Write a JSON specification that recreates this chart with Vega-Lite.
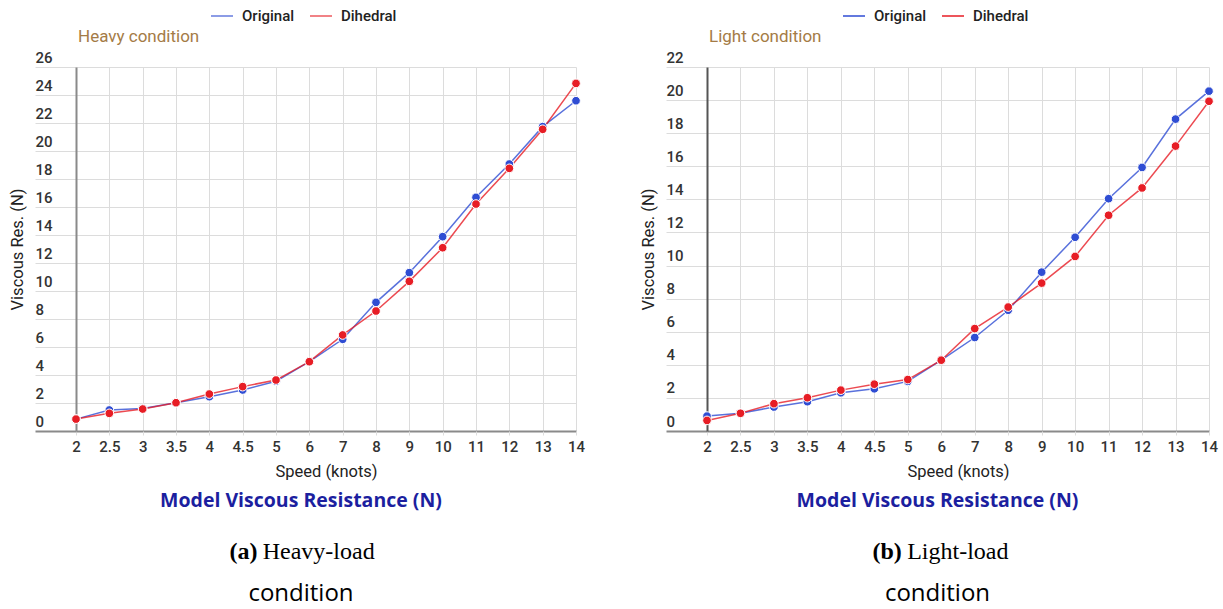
{
  "$schema": "https://vega.github.io/schema/vega-lite/v6.json",
  "background": "white",
  "padding": {"left": 9, "top": 4, "right": 0, "bottom": 0},
  "spacing": 47,
  "resolve": {"scale": {"color": "independent"}, "legend": {"color": "independent"}},
  "datasets": {
    "heavy": [
      {"speed": 2, "series": "Original", "value": 0.85},
      {"speed": 2.5, "series": "Original", "value": 1.5},
      {"speed": 3, "series": "Original", "value": 1.6},
      {"speed": 3.5, "series": "Original", "value": 2.02},
      {"speed": 4, "series": "Original", "value": 2.45},
      {"speed": 4.5, "series": "Original", "value": 2.93},
      {"speed": 5, "series": "Original", "value": 3.55},
      {"speed": 6, "series": "Original", "value": 4.95},
      {"speed": 7, "series": "Original", "value": 6.55},
      {"speed": 8, "series": "Original", "value": 9.19},
      {"speed": 9, "series": "Original", "value": 11.31},
      {"speed": 10, "series": "Original", "value": 13.88},
      {"speed": 11, "series": "Original", "value": 16.69},
      {"speed": 12, "series": "Original", "value": 19.07},
      {"speed": 13, "series": "Original", "value": 21.74},
      {"speed": 14, "series": "Original", "value": 23.59},
      {"speed": 2, "series": "Dihedral", "value": 0.85},
      {"speed": 2.5, "series": "Dihedral", "value": 1.26},
      {"speed": 3, "series": "Dihedral", "value": 1.57},
      {"speed": 3.5, "series": "Dihedral", "value": 2.02},
      {"speed": 4, "series": "Dihedral", "value": 2.64},
      {"speed": 4.5, "series": "Dihedral", "value": 3.17},
      {"speed": 5, "series": "Dihedral", "value": 3.64},
      {"speed": 6, "series": "Dihedral", "value": 4.95},
      {"speed": 7, "series": "Dihedral", "value": 6.86},
      {"speed": 8, "series": "Dihedral", "value": 8.57},
      {"speed": 9, "series": "Dihedral", "value": 10.69},
      {"speed": 10, "series": "Dihedral", "value": 13.09},
      {"speed": 11, "series": "Dihedral", "value": 16.21},
      {"speed": 12, "series": "Dihedral", "value": 18.76},
      {"speed": 13, "series": "Dihedral", "value": 21.55},
      {"speed": 14, "series": "Dihedral", "value": 24.83}
    ],
    "light": [
      {"speed": 2, "series": "Original", "value": 0.9},
      {"speed": 2.5, "series": "Original", "value": 1.07},
      {"speed": 3, "series": "Original", "value": 1.45},
      {"speed": 3.5, "series": "Original", "value": 1.77},
      {"speed": 4, "series": "Original", "value": 2.31},
      {"speed": 4.5, "series": "Original", "value": 2.55},
      {"speed": 5, "series": "Original", "value": 3.0},
      {"speed": 6, "series": "Original", "value": 4.28},
      {"speed": 7, "series": "Original", "value": 5.65},
      {"speed": 8, "series": "Original", "value": 7.3},
      {"speed": 9, "series": "Original", "value": 9.6},
      {"speed": 10, "series": "Original", "value": 11.71},
      {"speed": 11, "series": "Original", "value": 14.04},
      {"speed": 12, "series": "Original", "value": 15.93},
      {"speed": 13, "series": "Original", "value": 18.85},
      {"speed": 14, "series": "Original", "value": 20.54},
      {"speed": 2, "series": "Dihedral", "value": 0.64},
      {"speed": 2.5, "series": "Dihedral", "value": 1.07},
      {"speed": 3, "series": "Dihedral", "value": 1.65},
      {"speed": 3.5, "series": "Dihedral", "value": 2.01},
      {"speed": 4, "series": "Dihedral", "value": 2.47},
      {"speed": 4.5, "series": "Dihedral", "value": 2.83},
      {"speed": 5, "series": "Dihedral", "value": 3.11},
      {"speed": 6, "series": "Dihedral", "value": 4.28},
      {"speed": 7, "series": "Dihedral", "value": 6.19},
      {"speed": 8, "series": "Dihedral", "value": 7.49},
      {"speed": 9, "series": "Dihedral", "value": 8.94},
      {"speed": 10, "series": "Dihedral", "value": 10.55},
      {"speed": 11, "series": "Dihedral", "value": 13.04},
      {"speed": 12, "series": "Dihedral", "value": 14.69},
      {"speed": 13, "series": "Dihedral", "value": 17.22},
      {"speed": 14, "series": "Dihedral", "value": 19.93}
    ]
  },
  "hconcat": [
    {
      "title": {"text": "condition", "orient": "bottom", "anchor": "middle", "font": "Open Sans", "fontSize": 24, "fontWeight": "normal", "color": "#000", "offset": 18},
      "vconcat": [
        {
          "title": {"text": "(a)", "orient": "bottom", "anchor": "middle", "dx": -57.5, "offset": -24, "font": "Liberation Serif", "fontSize": 24, "fontWeight": "bold", "color": "#000"},
          "vconcat": [
            {
              "title": {"text": "Heavy-load", "orient": "bottom", "anchor": "middle", "dx": 17.7, "font": "Liberation Serif", "fontSize": 24, "fontWeight": "normal", "color": "#000", "offset": 30},
              "vconcat": [
                {
                  "title": {"text": "Model Viscous Resistance (N)", "orient": "bottom", "anchor": "middle", "font": "Open Sans", "fontSize": 19.5, "fontWeight": "bold", "color": "#1c1f9f", "offset": 12},
                  "vconcat": [
                    {
                      "width": 517,
                      "height": 364,
                      "data": {"name": "heavy"},
                      "title": {"text": "Heavy condition", "anchor": "start", "frame": "group", "dx": 2, "offset": 4, "font": "Roboto", "fontSize": 17, "fontWeight": "normal", "color": "#a47b46"},
                      "encoding": {
                        "x": {"field": "speed", "type": "ordinal",
                          "scale": {"type": "point", "range": [0, 500], "padding": 0},
                          "axis": {"title": "Speed (knots)", "titleFont": "Roboto", "titleFontSize": 16.5, "titleFontWeight": "normal", "titleColor": "#222", "titlePadding": 9,
                            "labelAngle": 0, "labelPadding": 4, "labelFont": "Roboto", "labelFontSize": 15, "labelFontWeight": 500, "labelColor": "#333",
                            "tickSize": 4, "tickColor": "#ddd", "domain": false, "grid": true, "gridColor": "#dcdcdc", "gridWidth": 1}},
                        "y": {"field": "value", "type": "quantitative",
                          "scale": {"domain": [0, 26], "nice": false},
                          "axis": {"title": "Viscous Res. (N)", "titleFont": "Roboto", "titleFontSize": 16.5, "titleFontWeight": "normal", "titleColor": "#222", "titlePadding": 9,
                            "values": [0, 2, 4, 6, 8, 10, 12, 14, 16, 18, 20, 22, 24, 26],
                            "labelAlign": "left", "labelBaseline": "bottom", "labelPadding": 0, "labelOffset": -2,
                            "labelFont": "Roboto", "labelFontSize": 15, "labelFontWeight": 500, "labelColor": "#333",
                            "tickSize": 41,
                            "tickColor": {"condition": {"test": "datum.value === 0", "value": "#8a8a8a"}, "value": "#dcdcdc"},
                            "tickWidth": {"condition": {"test": "datum.value === 0", "value": 2}, "value": 1},
                            "gridColor": {"condition": {"test": "datum.value === 0", "value": "#8a8a8a"}, "value": "#dcdcdc"},
                            "gridWidth": {"condition": {"test": "datum.value === 0", "value": 2}, "value": 1},
                            "domain": true, "domainColor": "#8a8a8a", "domainWidth": 2}},
                        "color": {"field": "series", "type": "nominal",
                          "scale": {"domain": ["Original", "Dihedral"], "range": ["#2f4dd3", "#e71d25"]},
                          "legend": {"orient": "none", "legendX": 134, "legendY": -63, "direction": "horizontal", "title": null,
                            "symbolType": "stroke", "symbolSize": 484, "symbolStrokeWidth": 2, "symbolOpacity": 0.55,
                            "labelFont": "Roboto", "labelFontSize": 15, "labelFontWeight": 500, "labelColor": "#222", "labelOffset": 8,
                            "columnPadding": 11, "padding": 0}}
                      },
                      "layer": [
                        {"mark": {"type": "line", "strokeWidth": 1.5, "opacity": 0.8}},
                        {"mark": {"type": "point", "filled": true, "size": 75, "stroke": "white", "strokeWidth": 1, "opacity": 1}}
                      ]
                    }
                  ]
                }
              ]
            }
          ]
        }
      ]
    },
    {
      "title": {"text": "condition", "orient": "bottom", "anchor": "middle", "dx": 6, "font": "Open Sans", "fontSize": 24, "fontWeight": "normal", "color": "#000", "offset": 18},
      "vconcat": [
        {
          "title": {"text": "(b)", "orient": "bottom", "anchor": "middle", "dx": -44.3, "offset": -24, "font": "Liberation Serif", "fontSize": 24, "fontWeight": "bold", "color": "#000"},
          "vconcat": [
            {
              "title": {"text": "Light-load", "orient": "bottom", "anchor": "middle", "dx": 26.3, "font": "Liberation Serif", "fontSize": 24, "fontWeight": "normal", "color": "#000", "offset": 30},
              "vconcat": [
                {
                  "title": {"text": "Model Viscous Resistance (N)", "orient": "bottom", "anchor": "middle", "dx": 6, "font": "Open Sans", "fontSize": 19.5, "fontWeight": "bold", "color": "#1c1f9f", "offset": 12},
                  "vconcat": [
                    {
                      "width": 516,
                      "height": 364,
                      "data": {"name": "light"},
                      "title": {"text": "Light condition", "anchor": "start", "frame": "group", "dx": 2, "offset": 4, "font": "Roboto", "fontSize": 17, "fontWeight": "normal", "color": "#a47b46"},
                      "encoding": {
                        "x": {"field": "speed", "type": "ordinal",
                          "scale": {"type": "point", "range": [0, 502], "padding": 0},
                          "axis": {"title": "Speed (knots)", "titleFont": "Roboto", "titleFontSize": 16.5, "titleFontWeight": "normal", "titleColor": "#222", "titlePadding": 9,
                            "labelAngle": 0, "labelPadding": 4, "labelFont": "Roboto", "labelFontSize": 15, "labelFontWeight": 500, "labelColor": "#333",
                            "tickSize": 4, "tickColor": "#ddd", "domain": false, "grid": true, "gridColor": "#dcdcdc", "gridWidth": 1}},
                        "y": {"field": "value", "type": "quantitative",
                          "scale": {"domain": [0, 22], "nice": false},
                          "axis": {"title": "Viscous Res. (N)", "titleFont": "Roboto", "titleFontSize": 16.5, "titleFontWeight": "normal", "titleColor": "#222", "titlePadding": 9,
                            "values": [0, 2, 4, 6, 8, 10, 12, 14, 16, 18, 20, 22],
                            "labelAlign": "left", "labelBaseline": "bottom", "labelPadding": 0, "labelOffset": -2,
                            "labelFont": "Roboto", "labelFontSize": 15, "labelFontWeight": 500, "labelColor": "#333",
                            "tickSize": 41,
                            "tickColor": {"condition": {"test": "datum.value === 0", "value": "#8a8a8a"}, "value": "#dcdcdc"},
                            "tickWidth": {"condition": {"test": "datum.value === 0", "value": 2}, "value": 1},
                            "gridColor": {"condition": {"test": "datum.value === 0", "value": "#8a8a8a"}, "value": "#dcdcdc"},
                            "gridWidth": {"condition": {"test": "datum.value === 0", "value": 2}, "value": 1},
                            "domain": true, "domainColor": "#555", "domainWidth": 2}},
                        "color": {"field": "series", "type": "nominal",
                          "scale": {"domain": ["Original", "Dihedral"], "range": ["#2f4dd3", "#e71d25"]},
                          "legend": {"orient": "none", "legendX": 135, "legendY": -63, "direction": "horizontal", "title": null,
                            "symbolType": "stroke", "symbolSize": 484, "symbolStrokeWidth": 2, "symbolOpacity": 0.75,
                            "labelFont": "Roboto", "labelFontSize": 15, "labelFontWeight": 500, "labelColor": "#222", "labelOffset": 8,
                            "columnPadding": 11, "padding": 0}}
                      },
                      "layer": [
                        {"mark": {"type": "line", "strokeWidth": 1.5, "opacity": 0.8}},
                        {"mark": {"type": "point", "filled": true, "size": 75, "stroke": "white", "strokeWidth": 1, "opacity": 1}}
                      ]
                    }
                  ]
                }
              ]
            }
          ]
        }
      ]
    }
  ],
  "config": {
    "view": {"stroke": null},
    "font": "Roboto"
  }
}
